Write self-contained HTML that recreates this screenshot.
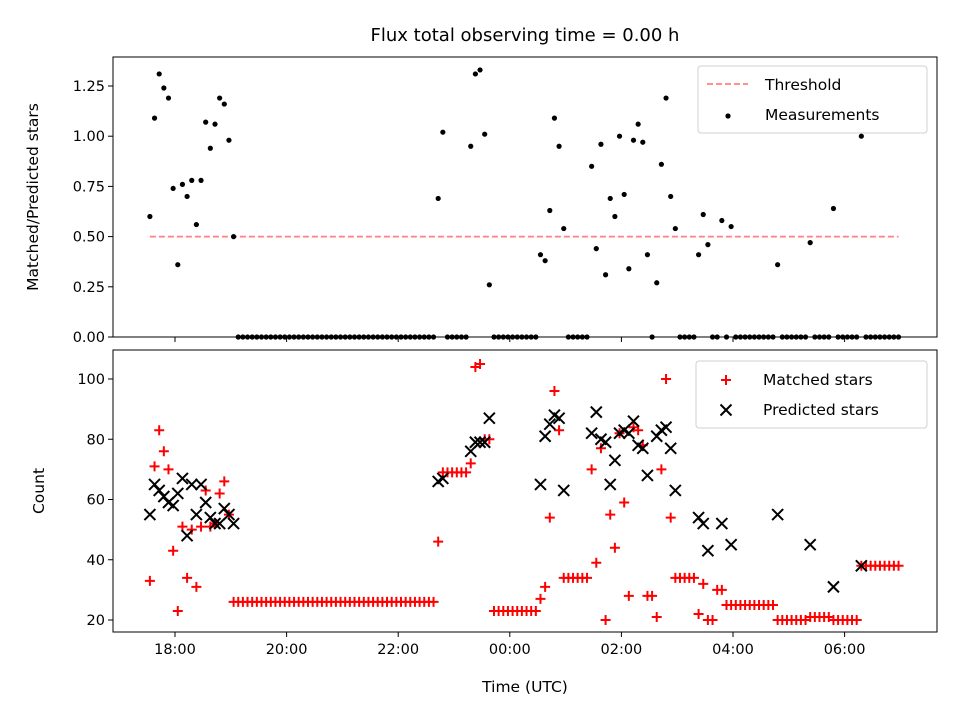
<!DOCTYPE html>
<html><head><meta charset="utf-8"><style>
html,body{margin:0;padding:0;background:#fff}
svg{display:block;font-family:"DejaVu Sans","Liberation Sans",sans-serif}
</style></head><body>
<svg id="chart" width="960" height="720" viewBox="0 0 960 720">
<rect width="960" height="720" fill="#fff"/>
<text x="525" y="41" font-size="18" text-anchor="middle">Flux total observing time = 0.00 h</text>
<g id="topPanel"></g>
<g id="botPanel"></g>
<text x="525" y="692" font-size="15.5" text-anchor="middle">Time (UTC)</text>
<text transform="translate(38,197) rotate(-90)" font-size="15.5" text-anchor="middle">Matched/Predicted stars</text>
<text transform="translate(44,491) rotate(-90)" font-size="15.5" text-anchor="middle">Count</text>
</svg>
<script>
const startMin = -27; // first sample at 17:33, minutes relative to 18:00
const stepMin = 5;
const ratio = [.60,1.09,1.31,1.24,1.19,.74,.36,.76,.70,.78,.56,.78,1.07,.94,1.06,1.19,1.16,.98,.50,
0,0,0,0,0,0,0,0,0,0,0,0,0,0,0,0,0,0,0,0,0,0,0,0,0,0,0,0,0,0,0,0,0,0,0,0,0,0,0,0,0,0,0,
.69,1.02,0,0,0,0,0,.95,1.31,1.33,1.01,.26,0,0,0,0,0,0,0,0,0,0,
.41,.38,.63,1.09,.95,.54,0,0,0,0,0,
.85,.44,.96,.31,.69,.60,1.00,.71,.34,.98,1.06,.97,.41,0,
.27,.86,1.19,.70,.54,0,0,0,0,.41,.61,.46,0,0,.58,0,.55,
0,0,0,0,0,0,0,0,0,.36,0,0,0,0,0,0,.47,0,0,0,0,.64,0,0,0,0,0,1.00,0,0,0,0,0,0,0,0];
const matched = [33,71,83,76,70,43,23,51,34,50,31,51,63,51,52,62,66,55,26,
26,26,26,26,26,26,26,26,26,26,26,26,26,26,26,26,26,26,26,26,26,26,26,26,26,26,26,26,26,26,26,26,26,26,26,26,26,26,26,26,26,26,26,
46,69,69,69,69,69,69,72,104,105,80,80,23,23,23,23,23,23,23,23,23,23,
27,31,54,96,83,34,34,34,34,34,34,
70,39,77,20,55,44,82,59,28,84,83,78,28,28,
21,70,100,54,34,34,34,34,34,22,32,20,20,30,30,25,25,
25,25,25,25,25,25,25,25,25,20,20,20,20,20,20,20,21,21,21,21,21,20,20,20,20,20,20,38,38,38,38,38,38,38,38,38];
const predicted = [55,65,63,61,59,58,62,67,48,65,55,65,59,54,52,52,57,55,52,
null,null,null,null,null,null,null,null,null,null,null,null,null,null,null,null,null,null,null,null,null,null,null,null,null,null,null,null,null,null,null,null,null,null,null,null,null,null,null,null,null,null,null,
66,67,null,null,null,null,null,76,79,79,79,87,null,null,null,null,null,null,null,null,null,null,
65,81,85,88,87,63,null,null,null,null,null,
82,89,80,79,65,73,82,83,82,86,78,77,68,null,
81,83,84,77,63,null,null,null,null,54,52,43,null,null,52,null,45,
null,null,null,null,null,null,null,null,null,55,null,null,null,null,null,null,45,null,null,null,null,31,null,null,null,null,null,38,null,null,null,null,null,null,null,null];
const threshold = 0.5;
const xTickMins = [0,120,240,360,480,600,720];
const xTickLabels = ["18:00","20:00","22:00","00:00","02:00","04:00","06:00"];
const topTicks = [0,0.25,0.5,0.75,1.0,1.25];
const topTickLabels = ["0.00","0.25","0.50","0.75","1.00","1.25"];
const botTicks = [20,40,60,80,100];
const botTickLabels = ["20","40","60","80","100"];

const NS="http://www.w3.org/2000/svg";
const L=113,R=937;
const X=m=>175+m*55.8/60;
const YT=v=>337-v*200.8;
const YB=v=>620-(v-20)*3.0125;
function mk(p,tag,a){const e=document.createElementNS(NS,tag);for(const k in a)e.setAttribute(k,a[k]);p.appendChild(e);return e;}
const topG=document.getElementById('topPanel'), botG=document.getElementById('botPanel');

function frame(g,y0,y1,ticks,labels,Y,showX,pre){
  const r=mk(g,'rect',{x:L,y:y0,width:R-L,height:y1-y0,fill:'none',stroke:'#000','stroke-width':1});
  
  
  xTickMins.forEach((m,i)=>{
    const t=mk(g,'line',{x1:X(m),x2:X(m),y1:y1,y2:y1+5,stroke:'#000'});
    
    
    if(showX){const tx=mk(g,'text',{x:X(m),y:y1+22,'font-size':14.5,'text-anchor':'middle'});tx.textContent=xTickLabels[i];
      
      }
  });
  ticks.forEach((v,i)=>{
    const t=mk(g,'line',{x1:L-5,x2:L,y1:Y(v),y2:Y(v),stroke:'#000'});
    
    
    const tx=mk(g,'text',{x:L-8,y:Y(v)+5,'font-size':14.5,'text-anchor':'end'});tx.textContent=labels[i];
    
    
  });
}
frame(topG,57,337,topTicks,topTickLabels,YT,false,'top');
frame(botG,350,632,botTicks,botTickLabels,YB,true,'bottom');

const thr=mk(topG,'line',{x1:X(startMin),x2:X(startMin+stepMin*(ratio.length-1)),y1:YT(threshold),y2:YT(threshold),stroke:'#ff8080','stroke-width':1.7,'stroke-dasharray':'6,3'});



ratio.forEach((v,i)=>{ if(v===null)return;
  const c=mk(topG,'circle',{cx:X(startMin+i*stepMin),cy:YT(v),r:2.6,fill:'#000'});
  
  
});
matched.forEach((v,i)=>{ if(v===null)return;
  const x=X(startMin+i*stepMin),y=YB(v);
  const p=mk(botG,'path',{d:`M${x-5},${y}H${x+5}M${x},${y-5}V${y+5}`,stroke:'#ff0000','stroke-width':2});
  
  
});
predicted.forEach((v,i)=>{ if(v===null)return;
  const x=X(startMin+i*stepMin),y=YB(v);
  const p=mk(botG,'path',{d:`M${x-5.5},${y-5.5}L${x+5.5},${y+5.5}M${x-5.5},${y+5.5}L${x+5.5},${y-5.5}`,stroke:'#000','stroke-width':2});
  
  
});

function legend(g,x,y,w,h,pre){
  const r=mk(g,'rect',{x:x,y:y,width:w,height:h,rx:3,fill:'#fff','fill-opacity':0.85,stroke:'#d0d0d0'});
  
  
}
legend(topG,698,66,229,67,'top');
const l1=mk(topG,'line',{x1:707,x2:748,y1:84,y2:84,stroke:'#ff8080','stroke-width':1.7,'stroke-dasharray':'6,3'});


let t=mk(topG,'text',{x:765,y:90,'font-size':15.5});t.textContent='Threshold';


const l2=mk(topG,'circle',{cx:728,cy:116,r:2.6,fill:'#000'});


t=mk(topG,'text',{x:765,y:120,'font-size':15.5});t.textContent='Measurements';



legend(botG,696,361,231,67,'bottom');
const l3=mk(botG,'path',{d:'M721,380H731M726,375V385',stroke:'#ff0000','stroke-width':2});


t=mk(botG,'text',{x:763,y:385,'font-size':15.5});t.textContent='Matched stars';


const l4=mk(botG,'path',{d:'M720.5,404.5L731.5,415.5M720.5,415.5L731.5,404.5',stroke:'#000','stroke-width':2});


t=mk(botG,'text',{x:763,y:415,'font-size':15.5});t.textContent='Predicted stars';


</script>
</body></html>
